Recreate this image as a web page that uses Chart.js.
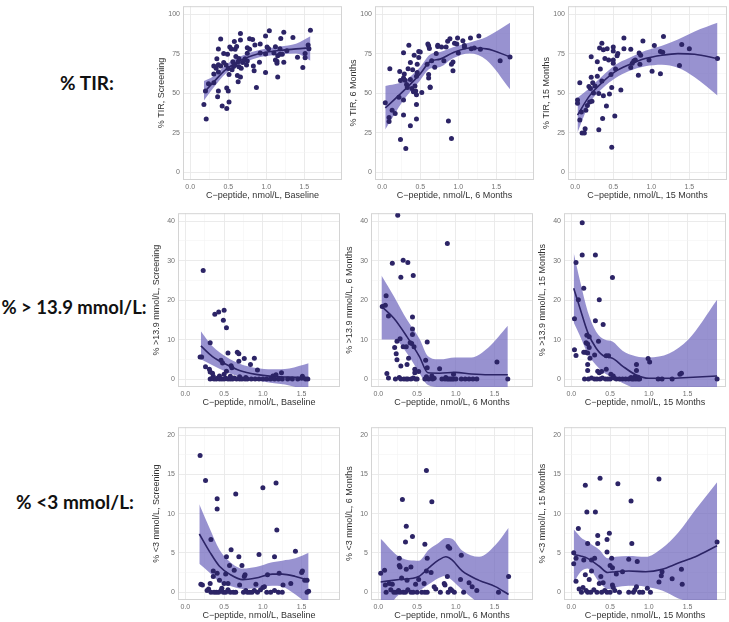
<!DOCTYPE html>
<html lang="en">
<head>
<meta charset="UTF-8">
<title>C-peptide vs CGM metrics</title>
<script src="https://cdn.jsdelivr.net/npm/chart.js"></script>
<style>
    body { margin: 0; background: #fff; width: 729px; height: 622px; position: relative; overflow: hidden; }
    canvas { position: absolute; }
    .rowlab { position: absolute; font-family: Lato, 'Open Sans', sans-serif; font-weight: bold; font-size: 19px; color: #111; transform: translate(-50%, -50%); white-space: nowrap; }
</style>
</head>
<body>
<div class="rowlab" style="left:87px;top:82px">% TIR:</div>
<div class="rowlab" style="left:74px;top:307px;font-size:18.5px">% &gt; 13.9 mmol/L:</div>
<div class="rowlab" style="left:75px;top:501px">% &lt;3 mmol/L:</div>
<script>
// ---- data: [x, y] points, smooth rows are [x, fit, lower, upper] ----
const tirBasePts = [[0.18,42.8],[0.21,33.6],[0.20,51.4],[0.24,55.9],[0.31,56.6],[0.37,51.4],[0.36,47.7],[0.42,41.8],[0.48,40.2],[0.51,44.3],[0.48,53.3],[0.50,51.4],[0.40,84.2],[0.37,77.9],[0.35,71.7],[0.37,68.0],[0.31,67.2],[0.31,62.1],[0.34,65.8],[0.37,63.3],[0.44,75.0],[0.49,74.6],[0.52,79.1],[0.54,77.9],[0.58,82.6],[0.59,77.7],[0.61,79.5],[0.66,87.7],[0.66,83.6],[0.64,71.9],[0.64,66.6],[0.60,73.2],[0.63,69.9],[0.44,69.3],[0.47,67.8],[0.40,67.2],[0.50,65.6],[0.56,69.9],[0.57,66.8],[0.55,64.8],[0.62,61.1],[0.66,60.2],[0.67,65.8],[0.59,67.8],[0.51,61.7],[0.63,57.2],[0.69,69.3],[0.72,71.7],[0.75,75.2],[0.75,78.7],[0.78,84.4],[0.82,84.0],[0.85,80.5],[0.83,67.2],[0.84,64.1],[0.87,53.5],[0.74,67.8],[0.75,70.3],[0.78,77.7],[0.92,81.1],[0.91,69.5],[0.92,75.4],[0.99,63.1],[0.99,86.1],[1.01,79.1],[1.03,78.1],[1.04,89.5],[0.99,74.8],[1.10,75.4],[1.12,79.3],[1.12,70.9],[1.14,70.1],[1.14,68.9],[1.15,60.2],[1.15,73.6],[1.18,78.1],[1.18,74.6],[1.19,84.6],[1.21,74.6],[1.23,88.5],[1.23,69.5],[1.27,76.8],[1.35,85.2],[1.41,72.7],[1.48,66.2],[1.51,72.3],[1.51,75.0],[1.55,80.5],[1.56,78.1],[1.58,89.8]];
const tirBaseSmooth = [[0.18,50.4,45.3,57.6],[0.30,56.6,53.0,60.5],[0.47,65.0,62.5,68.0],[0.65,70.5,68.0,73.0],[0.82,73.8,71.5,76.2],[1.00,75.8,73.5,78.3],[1.18,77.0,74.5,79.5],[1.39,78.0,75.0,81.3],[1.58,78.7,70.5,86.0]];

const tir6Pts = [[0.04,43.9],[0.10,65.4],[0.09,34.6],[0.09,32.0],[0.13,39.1],[0.17,37.1],[0.22,47.3],[0.24,58.0],[0.23,63.7],[0.24,20.7],[0.28,75.6],[0.29,62.1],[0.28,59.6],[0.30,58.2],[0.28,45.7],[0.28,36.1],[0.31,15.0],[0.32,55.5],[0.33,53.5],[0.34,65.4],[0.35,80.3],[0.37,58.6],[0.37,69.3],[0.37,29.3],[0.39,52.9],[0.40,64.8],[0.41,50.8],[0.42,74.0],[0.43,54.5],[0.44,51.4],[0.45,49.0],[0.45,42.8],[0.45,33.6],[0.45,60.7],[0.46,68.2],[0.46,63.1],[0.48,72.5],[0.48,76.4],[0.50,76.0],[0.52,50.4],[0.59,68.2],[0.60,81.1],[0.61,79.9],[0.61,61.7],[0.61,59.6],[0.62,78.3],[0.63,53.5],[0.63,53.9],[0.65,70.5],[0.69,66.4],[0.71,75.0],[0.73,79.5],[0.73,80.3],[0.78,79.1],[0.81,70.5],[0.84,79.1],[0.86,82.8],[0.87,32.4],[0.89,84.4],[0.91,21.3],[0.91,68.2],[0.93,69.7],[0.93,64.1],[0.95,81.6],[0.98,81.1],[0.99,84.8],[1.00,75.4],[1.06,83.2],[1.08,79.1],[1.08,80.1],[1.16,84.8],[1.17,78.1],[1.21,78.5],[1.27,86.1],[1.29,77.7],[1.55,70.5],[1.68,72.9]];
const tir6Smooth = [[0.04,40.6,27.0,54.5],[0.28,51.4,45.5,57.5],[0.49,61.7,57.5,66.0],[0.63,70.0,65.5,74.5],[0.76,71.5,66.5,76.0],[0.93,75.5,72.0,79.0],[1.15,78.5,75.0,82.0],[1.37,78.0,71.0,85.5],[1.68,72.9,52.5,94.5]];

const tir15Pts = [[0.03,45.7],[0.03,43.6],[0.06,56.6],[0.06,33.0],[0.08,38.1],[0.09,24.8],[0.12,24.8],[0.13,27.5],[0.14,39.1],[0.16,42.2],[0.18,54.1],[0.19,44.3],[0.20,52.9],[0.21,73.0],[0.21,60.0],[0.22,44.9],[0.23,56.6],[0.24,50.0],[0.26,54.5],[0.29,69.9],[0.29,60.7],[0.31,26.8],[0.31,49.8],[0.32,78.5],[0.33,65.2],[0.35,57.6],[0.35,81.6],[0.36,34.0],[0.37,48.4],[0.37,77.5],[0.39,71.9],[0.41,41.8],[0.42,78.1],[0.44,70.9],[0.45,49.4],[0.47,61.7],[0.48,53.5],[0.48,15.8],[0.50,79.1],[0.50,76.6],[0.50,70.9],[0.50,68.9],[0.52,35.5],[0.53,65.2],[0.55,73.6],[0.56,75.0],[0.60,52.0],[0.64,84.8],[0.64,78.1],[0.73,77.7],[0.73,66.2],[0.75,68.9],[0.77,70.3],[0.79,70.9],[0.83,61.3],[0.84,75.4],[0.85,68.2],[0.86,74.0],[0.89,83.0],[0.97,70.9],[1.01,63.9],[1.04,80.1],[1.12,76.4],[1.12,62.3],[1.15,75.8],[1.16,85.9],[1.40,80.7],[1.37,67.4],[1.50,78.1],[1.87,71.9]];
const tir15Smooth = [[0.03,36.1,25.0,47.0],[0.19,48.4,43.5,53.3],[0.36,57.0,53.0,61.0],[0.53,63.7,59.5,68.0],[0.70,67.8,63.8,72.0],[0.92,71.9,67.0,76.8],[1.14,74.0,68.0,80.0],[1.35,75.0,66.0,84.0],[1.57,74.6,60.0,89.0],[1.87,71.9,48.5,94.5]];

const hyperBasePts = [[0.23,27.5],[0.19,5.6],[0.21,5.6],[0.26,3.1],[0.32,9.2],[0.31,2.5],[0.32,1.8],[0.35,1.5],[0.38,16.4],[0.43,17.0],[0.49,14.9],[0.50,17.4],[0.53,13.0],[0.46,4.8],[0.48,4.1],[0.55,6.6],[0.53,2.0],[0.59,3.4],[0.60,2.9],[0.67,6.8],[0.69,6.4],[0.69,4.5],[0.76,5.2],[0.84,3.7],[0.89,5.3],[0.93,2.3],[1.24,1.6],[1.13,0.8],[1.17,1.1],[1.51,0.7],[0.36,0.7],[0.44,0.8],[0.50,1.2],[0.58,0.7],[0.70,0.6],[0.78,0.4],[0.32,0],[0.35,0.2],[0.37,0],[0.40,0],[0.42,0.3],[0.44,0],[0.47,0],[0.50,0],[0.52,0.2],[0.55,0],[0.58,0],[0.61,0],[0.63,0.3],[0.66,0],[0.70,0],[0.73,0],[0.77,0],[0.80,0],[0.85,0],[0.90,0],[0.95,0],[1.00,0],[1.05,0],[1.10,0],[1.15,0],[1.20,0],[1.25,0],[1.32,0],[1.38,0],[1.45,0],[1.50,0.2],[1.55,0],[1.58,0]];
const hyperBaseSmooth = [[0.20,8.4,5.0,12.1],[0.35,5.7,3.5,8.3],[0.53,3.7,1.8,5.6],[0.70,2.2,0.6,3.9],[0.91,1.2,-0.3,2.8],[1.12,0.7,-1.0,2.5],[1.34,0.5,-1.6,2.7],[1.59,0.3,-3.0,4.0]];

const hyper6Pts = [[0.25,41.5],[0.89,34.3],[0.18,29.3],[0.32,30.1],[0.38,29.5],[0.29,25.8],[0.45,26.2],[0.05,18.4],[0.10,21.1],[0.09,18.7],[0.13,16.0],[0.11,1.4],[0.44,15.7],[0.44,12.7],[0.44,11.3],[0.63,9.4],[0.24,9.6],[0.28,10.2],[0.32,8.2],[0.21,8.0],[0.23,6.4],[0.24,4.9],[0.41,9.2],[0.43,9.0],[0.46,8.2],[0.39,5.3],[0.36,8.2],[0.29,3.3],[0.37,3.7],[0.47,2.5],[0.52,1.9],[0.47,1.6],[0.61,4.8],[0.63,2.9],[0.79,2.6],[1.53,4.3],[1.67,0],[0.69,0.8],[0.97,1.2],[0.87,0.4],[0.62,0.6],[0.13,0.3],[0.22,0],[0.27,0.4],[0.29,0],[0.33,0],[0.36,0],[0.38,0],[0.42,0],[0.45,0.3],[0.48,0],[0.50,0],[0.60,0],[0.65,0],[0.70,0],[0.72,0.2],[0.82,0],[0.86,0],[0.89,0],[0.91,0],[0.93,0],[0.95,0],[0.97,0],[1.00,0],[1.07,0],[1.12,0],[1.17,0],[1.22,0],[1.27,0]];
const hyper6Smooth = [[0.04,18.4,10.0,26.2],[0.20,15.4,10.0,21.0],[0.37,10.7,6.5,15.0],[0.53,5.7,1.5,10.2],[0.64,1.6,-1.5,5.8],[0.79,1.5,-2.0,5.0],[0.99,1.7,-2.0,5.5],[1.20,1.3,-2.5,5.5],[1.42,1.1,-4.0,8.0],[1.67,1.1,-10,13.5]];

const hyper15Pts = [[0.14,39.6],[0.14,31.4],[0.31,31.4],[0.06,29.5],[0.16,23.0],[0.53,25.7],[0.04,15.3],[0.09,20.1],[0.36,20.1],[0.31,14.8],[0.41,13.8],[0.04,7.4],[0.06,6.0],[0.16,6.8],[0.18,6.8],[0.21,6.6],[0.19,9.2],[0.21,8.9],[0.20,11.1],[0.23,10.7],[0.23,8.0],[0.24,5.3],[0.30,6.1],[0.35,9.6],[0.45,5.9],[0.48,5.9],[0.45,2.5],[0.21,3.7],[0.21,2.2],[0.34,2.0],[0.36,1.6],[0.39,1.9],[0.51,1.2],[0.54,0.8],[0.17,0],[0.84,3.7],[0.84,2.2],[0.99,5.2],[1.01,4.3],[1.40,1.2],[1.42,1.5],[1.88,0],[0.77,0.4],[0.82,0.6],[0.86,0.5],[0.22,0],[0.26,0.3],[0.30,0],[0.33,0],[0.37,0],[0.40,0.3],[0.44,0],[0.47,0],[0.50,0],[0.55,0.3],[0.58,0],[0.62,0],[0.66,0],[0.70,0],[0.74,0],[0.78,0],[0.80,0],[0.83,0],[0.86,0],[0.88,0],[1.12,0],[1.17,0],[1.30,0]];
const hyper15Smooth = [[0.03,23.0,14.3,32.0],[0.11,18.0,11.0,25.0],[0.21,11.9,6.5,17.2],[0.32,7.8,3.5,12.0],[0.43,5.7,1.5,10.0],[0.53,5.3,0.5,9.5],[0.66,3.3,-1.0,7.2],[0.83,1.1,-2.5,5.8],[1.00,0.2,-4.0,5.5],[1.26,0.2,-5.0,6.5],[1.51,0.4,-8.0,10.0],[1.88,0.8,-20,20.1]];

const hypoBasePts = [[0.19,17.4],[0.26,14.2],[0.41,10.6],[0.41,11.9],[0.65,12.5],[1.00,13.3],[1.17,13.9],[1.18,7.9],[0.33,6.7],[0.22,0.9],[0.20,1.0],[0.59,5.4],[0.53,4.5],[0.69,4.5],[0.57,3.4],[0.95,4.8],[1.15,4.5],[1.42,5.2],[1.50,2.5],[1.51,2.7],[0.36,2.7],[0.36,2.0],[0.32,1.1],[0.41,2.4],[0.52,2.3],[0.63,2.8],[0.73,3.4],[0.76,2.0],[0.77,2.2],[1.06,2.2],[1.21,2.4],[1.26,0.9],[1.36,1.1],[1.54,1.5],[1.57,1.5],[1.59,0.1],[1.57,0],[0.44,1.5],[0.50,1.1],[0.55,1.1],[0.70,0.9],[0.91,1.0],[1.00,0.6],[1.02,0.7],[0.89,0.2],[0.30,0.4],[0.47,0.5],[0.28,0.2],[0.33,0],[0.37,0],[0.40,0],[0.43,0],[0.46,0.2],[0.49,0],[0.52,0],[0.55,0.3],[0.58,0],[0.62,0],[0.65,0],[0.75,0],[0.78,0.2],[0.80,0],[0.83,0],[0.86,0],[0.93,0],[0.97,0.3],[1.05,0],[1.10,0],[1.15,0.2],[1.20,0],[1.25,0]];
const hypoBaseSmooth = [[0.18,7.4,3.6,11.2],[0.31,5.2,2.5,8.2],[0.44,3.3,1.3,5.4],[0.57,2.3,0.8,3.9],[0.74,1.6,0.4,3.0],[0.91,1.8,0.5,3.2],[1.12,2.3,0.8,3.8],[1.25,2.3,0.7,4.0],[1.42,2.0,-0.3,4.3],[1.59,1.5,-1.6,5.0]];

const hypo6Pts = [[0.62,15.5],[0.31,11.8],[0.69,11.5],[0.36,8.4],[0.44,7.1],[0.60,6.1],[0.35,6.4],[0.90,5.8],[0.92,5.6],[0.27,4.3],[0.63,4.3],[1.07,4.7],[0.03,2.4],[0.08,2.8],[0.27,3.4],[0.28,3.2],[0.42,3.2],[0.36,2.9],[0.68,2.5],[0.62,2.7],[0.89,2.0],[1.06,1.6],[1.17,1.2],[1.21,0.7],[1.68,2.0],[1.55,0],[1.27,0.2],[0.72,0.7],[0.74,0.4],[0.85,1.1],[0.86,0.9],[0.95,0.2],[0.93,0.4],[0.18,1.0],[0.09,0.9],[0.14,1.1],[0.30,1.8],[0.37,1.5],[0.48,1.0],[0.52,1.6],[0.59,1.1],[0.60,0],[0.10,0],[0.16,0.3],[0.20,0],[0.23,0],[0.26,0.2],[0.28,0],[0.32,0],[0.35,0],[0.38,0.3],[0.42,0],[0.45,0],[0.50,0],[0.56,0],[0.63,0],[0.80,0],[0.90,0],[0.98,0],[1.10,0]];
const hypo6Smooth = [[0.03,1.3,-3.9,6.8],[0.27,1.6,-0.3,4.5],[0.52,2.0,0.2,4.0],[0.65,3.1,1.0,5.4],[0.78,4.1,1.8,6.3],[0.87,4.5,2.1,6.9],[0.95,4.1,1.5,6.8],[1.08,2.7,0.3,5.3],[1.30,1.5,-1.5,4.5],[1.51,0.7,-3.5,6.0],[1.68,-0.3,-7.0,8.2]];

const hypo15Pts = [[1.13,14.4],[0.37,14.5],[0.18,13.6],[0.60,13.8],[0.77,11.6],[0.20,10.2],[0.31,10.2],[0.09,8.1],[0.49,7.5],[0.34,7.2],[0.46,6.7],[0.21,6.2],[0.34,6.2],[0.78,6.2],[0.46,5.1],[0.03,5.0],[0.06,4.3],[0.16,4.1],[0.26,4.1],[0.30,4.3],[0.03,3.6],[0.52,4.3],[0.74,4.2],[0.85,3.9],[0.50,3.4],[0.53,3.1],[0.58,2.3],[0.66,2.6],[0.18,2.2],[0.23,1.6],[0.06,1.4],[0.26,2.7],[0.38,2.0],[1.42,2.9],[1.17,2.6],[1.16,2.1],[1.13,1.3],[1.30,1.7],[1.43,1.0],[1.88,6.4],[0.10,0.4],[0.15,0.6],[0.36,1.1],[0.41,1.2],[0.53,0.9],[0.54,0.6],[0.84,0.7],[0.98,0.5],[1.02,0],[0.21,0],[0.74,0],[0.13,0],[0.19,0.2],[0.25,0],[0.29,0.3],[0.33,0],[0.39,0],[0.43,0.2],[0.46,0],[0.50,0],[0.56,0.2],[0.62,0],[0.80,0],[0.82,0.3],[0.88,0],[0.92,0]];
const hypo15Smooth = [[0.03,4.8,1.2,8.0],[0.12,4.6,2.6,7.0],[0.21,4.3,3.0,6.4],[0.36,3.3,1.3,5.4],[0.47,2.5,0.4,4.3],[0.57,2.6,0.6,4.5],[0.74,2.7,0.8,4.6],[0.96,2.6,0.7,4.5],[1.17,2.9,0.2,5.6],[1.38,3.7,-0.8,7.6],[1.60,4.5,-1.5,10.5],[1.88,5.9,-3.0,14.0]];

const xTicks = [0, 0.25, 0.5, 0.75, 1, 1.25, 1.5, 1.75];
const xTitles = ['C\u2212peptide, nmol/L, Baseline', 'C\u2212peptide, nmol/L, 6 Months', 'C\u2212peptide, nmol/L, 15 Months'];
const yTitles = [
    ['% TIR, Screening', '% TIR, 6 Months', '% TIR, 15 Months'],
    ['% >13.9 mmol/L, Screening', '% >13.9 mmol/L, 6 Months', '% >13.9 mmol/L, 15 Months'],
    ['% <3 mmol/L, Screening', '% <3 mmol/L, 6 Months', '% <3 mmol/L, 15 Months']
];
const pts = [[tirBasePts, tir6Pts, tir15Pts], [hyperBasePts, hyper6Pts, hyper15Pts], [hypoBasePts, hypo6Pts, hypo15Pts]];
const smooths = [[tirBaseSmooth, tir6Smooth, tir15Smooth], [hyperBaseSmooth, hyper6Smooth, hyper15Smooth], [hypoBaseSmooth, hypo6Smooth, hypo15Smooth]];

// ---- layout per row ----
const rows = [
    { top: 1, height: 179, ymin: -5, ymax: 105, major: 25, minor: 12.5, lefts: [183, 375, 568], width: 160 },
    { top: 208, height: 179, ymin: -2, ymax: 42, major: 10, minor: 5, lefts: [178, 371, 564], width: 163 },
    { top: 422, height: 178, ymin: -1, ymax: 21, major: 5, minor: 2.5, lefts: [178, 371, 564], width: 163 }
];

const ptColor = '#2c2466';
const bandColor = 'rgba(112,104,190,0.72)';
const family = "'Liberation Sans', Arial, sans-serif";

const isMult = (v, step) => Math.abs(v / step - Math.round(v / step)) < 1e-6;

// light grey box round each panel
const frame = {
    id: 'frame',
    beforeDatasetsDraw(chart) {
        const { ctx, chartArea: a } = chart;
        ctx.save();
        ctx.strokeStyle = '#d4d4d4';
        ctx.lineWidth = 1;
        ctx.strokeRect(a.left + 0.5, a.top + 0.5, a.width - 1, a.height - 1);
        ctx.restore();
    }
};

function makePanel(ri, ci) {
    const r = rows[ri];
    const padL = 30, padT = 2, padR = 3, padB = 24;
    const W = padL + r.width + padR, H = padT + r.height + padB;
    const cv = document.createElement('canvas');
    cv.width = W; cv.height = H;
    cv.style.left = (r.lefts[ci] - padL) + 'px';
    cv.style.top = (r.top - padT) + 'px';
    document.body.appendChild(cv);

    const sm = smooths[ri][ci];
    const yTicks = [];
    for (let v = 0; v <= r.ymax - 1e-9; v += r.minor) yTicks.push(v);

    new Chart(cv, {
        type: 'line',
        data: {
            datasets: [
                { data: pts[ri][ci].map(([x, y]) => ({ x, y })), showLine: false, pointRadius: 2.5, pointBackgroundColor: ptColor, pointBorderWidth: 0, order: 0 },
                { data: sm.map(s => ({ x: s[0], y: s[1] })), borderColor: ptColor, borderWidth: 1.6, pointRadius: 0, cubicInterpolationMode: 'monotone', fill: false, order: 1 },
                { data: sm.map(s => ({ x: s[0], y: s[3] })), borderColor: 'transparent', borderWidth: 0, pointRadius: 0, cubicInterpolationMode: 'monotone', fill: false, order: 3 },
                { data: sm.map(s => ({ x: s[0], y: s[2] })), borderColor: 'transparent', borderWidth: 0, pointRadius: 0, cubicInterpolationMode: 'monotone', fill: '-1', backgroundColor: bandColor, order: 2 }
            ]
        },
        options: {
            responsive: false,
            devicePixelRatio: 1,
            animation: false,
            layout: { padding: { top: padT, right: padR, left: 0, bottom: 0 } },
            plugins: { legend: { display: false }, tooltip: { enabled: false } },
            scales: {
                x: {
                    type: 'linear', min: -0.095, max: 1.995,
                    afterBuildTicks: s => { s.ticks = xTicks.map(v => ({ value: v })); },
                    afterFit: s => { s.height = padB; },
                    border: { display: false },
                    grid: { drawTicks: false, color: c => isMult(c.tick.value, 0.5) ? '#e9e9e9' : '#f4f4f4', lineWidth: c => isMult(c.tick.value, 0.5) ? 0.9 : 0.6 },
                    ticks: { padding: 3, autoSkip: false, maxRotation: 0, color: '#707070', font: { size: 7, family }, callback: v => isMult(v, 0.5) ? v.toFixed(1) : '' },
                    title: { display: true, text: xTitles[ci], color: '#333', font: { size: 9, family }, padding: { top: 0, bottom: 2.6 } }
                },
                y: {
                    min: r.ymin, max: r.ymax,
                    afterBuildTicks: s => { s.ticks = yTicks.map(v => ({ value: v })); },
                    afterFit: s => { s.width = padL; },
                    border: { display: false },
                    grid: { drawTicks: false, color: c => isMult(c.tick.value, r.major) ? '#e9e9e9' : '#f4f4f4', lineWidth: c => isMult(c.tick.value, r.major) ? 0.9 : 0.6 },
                    ticks: { padding: 3, autoSkip: false, color: '#707070', font: { size: 7, family }, callback: v => isMult(v, r.major) ? String(Math.round(v)) : '' },
                    title: { display: true, text: yTitles[ri][ci], color: '#333', font: { size: 9, family }, padding: { top: 3.6, bottom: 0 } }
                }
            }
        },
        plugins: [frame]
    });
}

for (let ri = 0; ri < 3; ri++) {
    for (let ci = 0; ci < 3; ci++) makePanel(ri, ci);
}
</script>
</body>
</html>
